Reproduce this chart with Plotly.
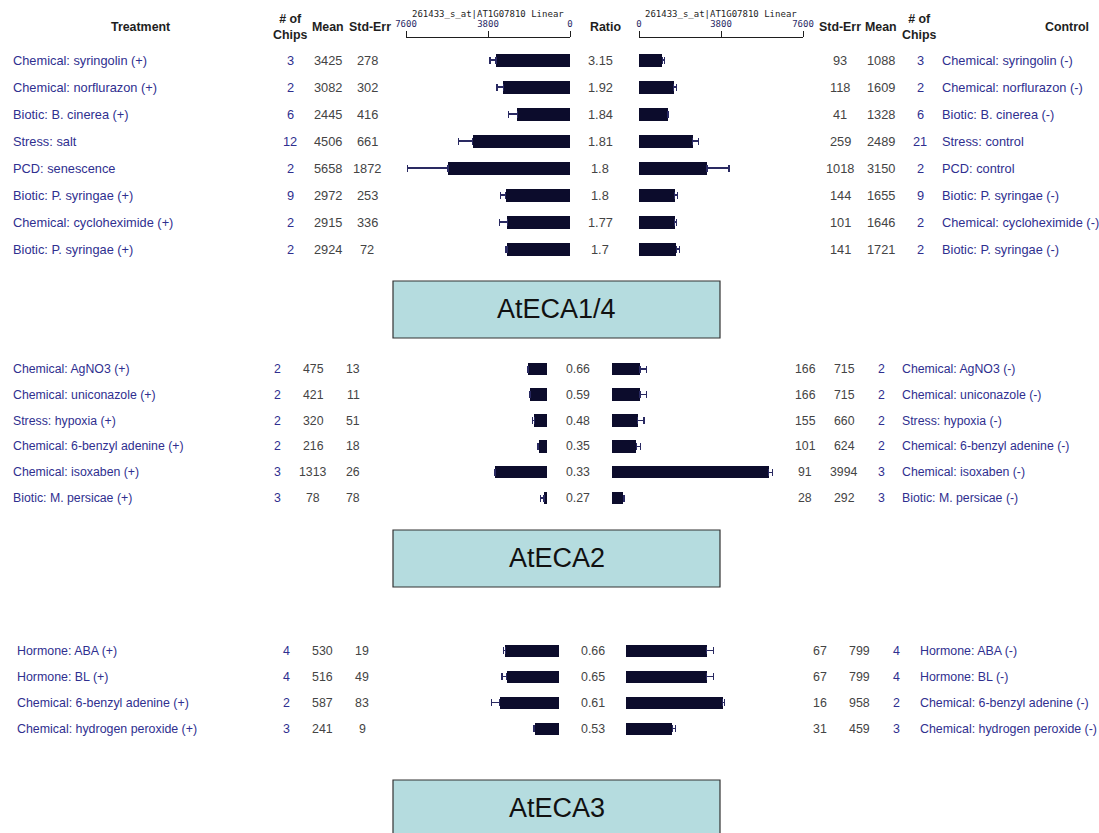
import plotly.graph_objects as go

W, H = 1099, 833

# ---------------- AtECA1/4 ----------------
eca14_treat = ["Chemical: syringolin (+)", "Chemical: norflurazon (+)", "Biotic: B. cinerea (+)",
               "Stress: salt", "PCD: senescence", "Biotic: P. syringae (+)",
               "Chemical: cycloheximide (+)", "Biotic: P. syringae (+)"]
eca14_treat_chips = [3, 2, 6, 12, 2, 9, 2, 2]
eca14_treat_mean = [3425, 3082, 2445, 4506, 5658, 2972, 2915, 2924]
eca14_treat_se = [278, 302, 416, 661, 1872, 253, 336, 72]
eca14_ratio = [3.15, 1.92, 1.84, 1.81, 1.8, 1.8, 1.77, 1.7]
eca14_ctrl_se = [93, 118, 41, 259, 1018, 144, 101, 141]
eca14_ctrl_mean = [1088, 1609, 1328, 2489, 3150, 1655, 1646, 1721]
eca14_ctrl_chips = [3, 2, 6, 21, 2, 9, 2, 2]
eca14_ctrl = ["Chemical: syringolin (-)", "Chemical: norflurazon (-)", "Biotic: B. cinerea (-)",
              "Stress: control", "PCD: control", "Biotic: P. syringae (-)",
              "Chemical: cycloheximide (-)", "Biotic: P. syringae (-)"]

# ---------------- AtECA2 ----------------
eca2_treat = ["Chemical: AgNO3 (+)", "Chemical: uniconazole (+)", "Stress: hypoxia (+)",
              "Chemical: 6-benzyl adenine (+)", "Chemical: isoxaben (+)", "Biotic: M. persicae (+)"]
eca2_treat_chips = [2, 2, 2, 2, 3, 3]
eca2_treat_mean = [475, 421, 320, 216, 1313, 78]
eca2_treat_se = [13, 11, 51, 18, 26, 78]
eca2_ratio = [0.66, 0.59, 0.48, 0.35, 0.33, 0.27]
eca2_ctrl_se = [166, 166, 155, 101, 91, 28]
eca2_ctrl_mean = [715, 715, 660, 624, 3994, 292]
eca2_ctrl_chips = [2, 2, 2, 2, 3, 3]
eca2_ctrl = ["Chemical: AgNO3 (-)", "Chemical: uniconazole (-)", "Stress: hypoxia (-)",
             "Chemical: 6-benzyl adenine (-)", "Chemical: isoxaben (-)", "Biotic: M. persicae (-)"]

# ---------------- AtECA3 ----------------
eca3_treat = ["Hormone: ABA (+)", "Hormone: BL (+)", "Chemical: 6-benzyl adenine (+)",
              "Chemical: hydrogen peroxide (+)"]
eca3_treat_chips = [4, 4, 2, 3]
eca3_treat_mean = [530, 516, 587, 241]
eca3_treat_se = [19, 49, 83, 9]
eca3_ratio = [0.66, 0.65, 0.61, 0.53]
eca3_ctrl_se = [67, 67, 16, 31]
eca3_ctrl_mean = [799, 799, 958, 459]
eca3_ctrl_chips = [4, 4, 2, 3]
eca3_ctrl = ["Hormone: ABA (-)", "Hormone: BL (-)", "Chemical: 6-benzyl adenine (-)",
             "Chemical: hydrogen peroxide (-)"]

gene_names = ["AtECA1/4", "AtECA2", "AtECA3"]
axis_caption = "261433_s_at|AT1G07810 Linear"
axis_ticks = [0, 3800, 7600]

# colours / fonts
BAR = "#0c0c2c"
ERR = "#2a2a62"
BLUE = "#2f2f8f"
GREY = "#444444"
BLACK = "#1e1e1e"
BOX = "#b5dcdf"
SANS = "Liberation Sans, Arial, sans-serif"
MONO = "DejaVu Sans Mono, monospace"
FS = 12.4


def px(x):
    return x / W


def py(y):
    return 1 - y / H


panels = [
    dict(treat=eca14_treat, tchips=eca14_treat_chips, tmean=eca14_treat_mean, tse=eca14_treat_se,
         ratio=eca14_ratio, cse=eca14_ctrl_se, cmean=eca14_ctrl_mean, cchips=eca14_ctrl_chips,
         ctrl=eca14_ctrl, row0=60, step=27, lzero=570, rzero=639, span=164, vmax=7600, fs=12.8,
         cols=dict(name=13, chips=290, mean=328, se=367, ratio=600,
                   rse=840, rmean=881, rchips=920, rname=942)),
    dict(treat=eca2_treat, tchips=eca2_treat_chips, tmean=eca2_treat_mean, tse=eca2_treat_se,
         ratio=eca2_ratio, cse=eca2_ctrl_se, cmean=eca2_ctrl_mean, cchips=eca2_ctrl_chips,
         ctrl=eca2_ctrl, row0=369, step=25.8, lzero=547, rzero=612, span=164, vmax=4180, fs=12.3,
         cols=dict(name=13, chips=277, mean=313, se=353, ratio=578,
                   rse=805, rmean=844, rchips=881, rname=902)),
    dict(treat=eca3_treat, tchips=eca3_treat_chips, tmean=eca3_treat_mean, tse=eca3_treat_se,
         ratio=eca3_ratio, cse=eca3_ctrl_se, cmean=eca3_ctrl_mean, cchips=eca3_ctrl_chips,
         ctrl=eca3_ctrl, row0=650.5, step=26, lzero=559, rzero=626, span=164, vmax=1624, fs=12.4,
         cols=dict(name=17, chips=286, mean=322, se=362, ratio=593,
                   rse=820, rmean=859, rchips=896, rname=920)),
]

fig = go.Figure()
layout = dict(template="none", width=W, height=H, autosize=False,
              margin=dict(l=0, r=0, t=0, b=0, pad=0),
              paper_bgcolor="white", plot_bgcolor="white", showlegend=False,
              bargap=0)
annotations = []


def label(x, yref, y, text, color, anchor="center", size=FS, bold=False, family=SANS):
    annotations.append(dict(
        x=px(x), xref="paper", y=y, yref=yref, text=f"<b>{text}</b>" if bold else str(text),
        showarrow=False, xanchor=anchor, yanchor="middle", align=anchor,
        borderpad=0, borderwidth=0,
        font=dict(family=family, size=size, color=color)))


for k, p in enumerate(panels):
    n = len(p["treat"])
    idx = list(range(n))
    yname = "y" if k == 0 else f"y{k + 1}"
    ykey = "yaxis" if k == 0 else f"yaxis{k + 1}"
    xl_n, xr_n = 2 * k + 1, 2 * k + 2
    xl = "x" if xl_n == 1 else f"x{xl_n}"
    xr = f"x{xr_n}"
    xl_key = "xaxis" if xl_n == 1 else f"xaxis{xl_n}"
    xr_key = f"xaxis{xr_n}"

    bw = 12.5 / p["step"]
    err = dict(type="data", symmetric=False, color=ERR, thickness=1.2, width=3.5)

    # treatment bars grow leftwards from zero, control bars rightwards
    fig.add_trace(go.Bar(x=p["tmean"], y=idx, orientation="h", xaxis=xl, yaxis=yname,
                         width=bw, marker=dict(color=BAR, line=dict(width=0)),
                         error_x=dict(err, array=p["tse"], arrayminus=[0] * n),
                         hoverinfo="skip"))
    fig.add_trace(go.Bar(x=p["cmean"], y=idx, orientation="h", xaxis=xr, yaxis=yname,
                         width=bw, marker=dict(color=BAR, line=dict(width=0)),
                         error_x=dict(err, array=p["cse"], arrayminus=[0] * n),
                         hoverinfo="skip"))

    top = p["row0"] - p["step"] / 2
    bottom = p["row0"] + p["step"] * (n - 1) + p["step"] / 2
    layout[ykey] = dict(domain=[py(bottom), py(top)], range=[n - 0.5, -0.5],
                        visible=False, fixedrange=True, anchor=xl, automargin=False)

    left_dom = [px(p["lzero"] - p["span"]), px(p["lzero"])]
    right_dom = [px(p["rzero"]), px(p["rzero"] + p["span"])]
    base_ax = dict(showgrid=False, zeroline=False, fixedrange=True, automargin=False)
    if k == 0:
        shown = dict(visible=True, side="top", anchor="free", position=py(37),
                     showline=True, linecolor=BLACK, linewidth=1,
                     ticks="outside", ticklen=6, tickwidth=1, tickcolor=BLACK,
                     tickvals=axis_ticks, ticktext=[str(t) for t in axis_ticks],
                     tickfont=dict(family=MONO, size=9, color="#2a2a66"))
        layout[xl_key] = dict(base_ax, domain=left_dom, range=[p["vmax"], 0], **shown)
        layout[xr_key] = dict(base_ax, domain=right_dom, range=[0, p["vmax"]], **shown)
        for dom in (left_dom, right_dom):
            annotations.append(dict(x=(dom[0] + dom[1]) / 2, xref="paper", y=py(14), yref="paper",
                                    text=axis_caption, showarrow=False, xanchor="center",
                                    yanchor="middle",
                                    font=dict(family=MONO, size=9, color=BLACK)))
    else:
        layout[xl_key] = dict(base_ax, domain=left_dom, range=[p["vmax"], 0],
                              visible=False, anchor=yname)
        layout[xr_key] = dict(base_ax, domain=right_dom, range=[0, p["vmax"]],
                              visible=False, anchor=yname)

    c = p["cols"]
    fs = p["fs"]
    for i in idx:
        label(c["name"], yname, i, p["treat"][i], BLUE, "left", size=fs)
        label(c["chips"], yname, i, p["tchips"][i], BLUE, size=fs)
        label(c["mean"], yname, i, p["tmean"][i], GREY, size=fs)
        label(c["se"], yname, i, p["tse"][i], GREY, size=fs)
        label(c["ratio"], yname, i, p["ratio"][i], GREY, size=fs)
        label(c["rse"], yname, i, p["cse"][i], GREY, size=fs)
        label(c["rmean"], yname, i, p["cmean"][i], GREY, size=fs)
        label(c["rchips"], yname, i, p["cchips"][i], BLUE, size=fs)
        label(c["rname"], yname, i, p["ctrl"][i], BLUE, "left", size=fs)

# column headers above the first block
headers = [(140, "Treatment"), (290, "# of<br>Chips"), (328, "Mean"), (370, "Std-Err"),
           (605, "Ratio"), (840, "Std-Err"), (881, "Mean"), (919, "# of<br>Chips"),
           (1067, "Control")]
for x, t in headers:
    annotations.append(dict(x=px(x), xref="paper", y=py(27), yref="paper",
                            text=f"<b>{t}</b>", showarrow=False, xanchor="center",
                            yanchor="middle",
                            font=dict(family=SANS, size=FS, color=BLACK)))

# gene name boxes under each block
boxes = [(281, 338), (530, 587), (780, 860)]
shapes = []
for (y0, y1), name in zip(boxes, gene_names):
    shapes.append(dict(type="rect", xref="paper", yref="paper",
                       x0=px(393), x1=px(720), y0=py(y1), y1=py(y0),
                       fillcolor=BOX, line=dict(color="#333333", width=1.2), layer="below"))
    annotations.append(dict(x=px(556.5), xref="paper", y=py(y0 + 28), yref="paper",
                            text=name, showarrow=False, xanchor="center", yanchor="middle",
                            font=dict(family=SANS, size=27, color="#111111")))

layout["annotations"] = annotations
layout["shapes"] = shapes
fig.update_layout(**layout)

fig.write_html("out.html", config={"responsive": False, "displayModeBar": False},
               post_script="document.body.style.margin='0';"
                           "document.documentElement.style.overflow='hidden';")
